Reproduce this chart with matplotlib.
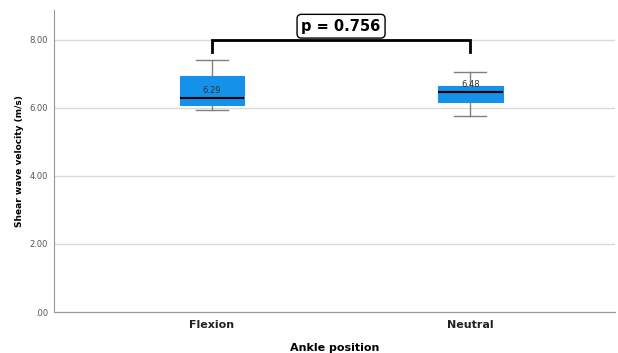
import matplotlib.pyplot as plt

# Données
categories = ["Flexion", "Neutral"]
medians = [6.29, 6.48]
q1 = [6.09, 6.18]
q3 = [6.94, 6.63]
whislo = [5.94, 5.76]
whishi = [7.41, 7.06]
p_value = 0.756

stats = []
for i, name in enumerate(categories):
    stats.append({"label": name, "med": medians[i], "q1": q1[i], "q3": q3[i],
                  "whislo": whislo[i], "whishi": whishi[i], "fliers": []})

fig = plt.figure(figsize=(6.18, 3.53), dpi=100)
ax = fig.add_axes([0.087, 0.116, 0.908, 0.856])

ax.yaxis.grid(True, color="#d9d9d9", linewidth=1)
ax.set_axisbelow(True)

ax.bxp(stats, positions=[1, 2], widths=0.25, patch_artist=True, showfliers=False,
       boxprops=dict(facecolor="#1591ea", edgecolor="#1591ea", linewidth=0.8),
       medianprops=dict(color="black", linewidth=1.5),
       whiskerprops=dict(color="#808080", linewidth=1),
       capprops=dict(color="#808080", linewidth=1))

# étiquettes des médianes
for i, m in enumerate(medians):
    ax.text(i + 1, m + 0.08, f"{m:.2f}", ha="center", va="bottom", fontsize=6, color="#333333")

# crochet de significativité
y_top = 8.0
y_leg = 7.65
ax.plot([1, 1, 2, 2], [y_leg, y_top, y_top, y_leg], color="black", linewidth=2, solid_joinstyle="miter")
ax.text(1.5, 8.4, f"p = {p_value}", ha="center", va="center", fontsize=10.5, fontweight="bold",
        bbox=dict(boxstyle="round,pad=0.3", facecolor="white", edgecolor="black", linewidth=1))

ax.set_xlim(0.388, 2.56)
ax.set_ylim(0, 8.88)
ax.set_yticks([0, 2, 4, 6, 8])
ax.set_yticklabels([".00", "2.00", "4.00", "6.00", "8.00"], fontsize=6, color="#555555")
ax.set_xticks([1, 2])
ax.set_xticklabels(categories, fontsize=8, fontweight="bold", color="#222222")
ax.tick_params(axis="x", length=0, pad=6)
ax.tick_params(axis="y", length=0, pad=4)

for side in ["top", "right"]:
    ax.spines[side].set_visible(False)
ax.spines["left"].set_color("#999999")
ax.spines["bottom"].set_color("#999999")

ax.set_xlabel("Ankle position", fontsize=8, fontweight="bold", labelpad=9)
ax.set_ylabel("Shear wave velocity (m/s)", fontsize=6.5, fontweight="bold", labelpad=4)

plt.savefig("out.png", dpi=100)
